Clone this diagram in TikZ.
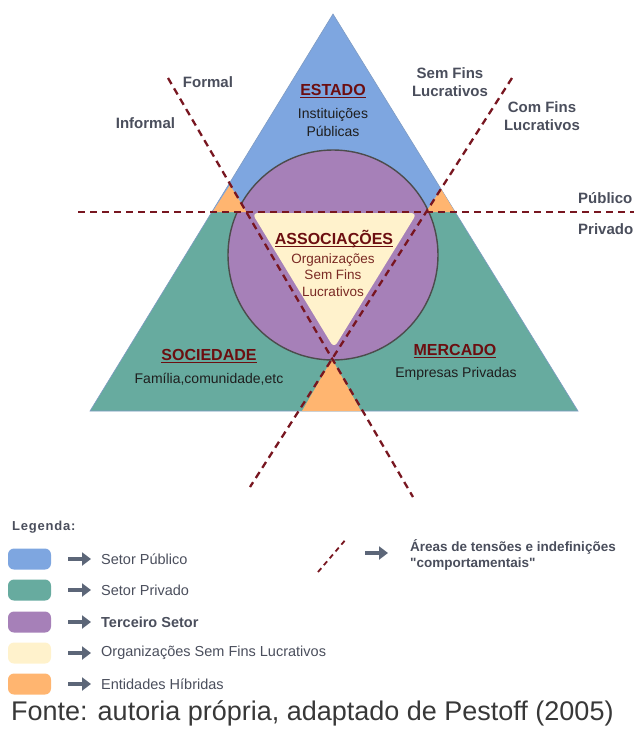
\documentclass[tikz,border=0pt]{standalone}
\usepackage{fontspec}
\setmainfont{Liberation Sans}
\newfontfamily\retas{Liberation Sans}
\usepackage{xcolor}
\usepackage{tikz}
\usetikzlibrary{arrows.meta,positioning}

\definecolor{publico}{HTML}{7EA6E0}
\definecolor{privado}{HTML}{67AB9F}
\definecolor{terceiro}{HTML}{A680B8}
\definecolor{osfl}{HTML}{FFF2CC}
\definecolor{hibrido}{HTML}{FFB570}
\definecolor{tensao}{RGB}{120,22,32}
\definecolor{titulo}{RGB}{108,14,16}
\definecolor{osfltexto}{RGB}{122,42,36}
\definecolor{rotulo}{RGB}{74,78,92}
\definecolor{seta}{RGB}{92,102,120}
\definecolor{corpo}{RGB}{30,30,30}

\newcommand{\sublinhado}[1]{\setbox0\hbox{#1}\rlap{\color{titulo}\rule[-2.6pt]{\wd0}{1.3pt}}\box0}

\begin{document}
\begin{tikzpicture}[x=1pt,y=-1pt,
  linhatensao/.style={draw=tensao,line width=2.3pt,dash pattern=on 7pt off 5pt},
  setor/.style={inner sep=0pt,text=titulo,font=\bfseries\fontsize{16}{18}\selectfont},
  descr/.style={inner sep=0pt,text=corpo,align=center,font=\fontsize{14}{18}\selectfont},
  eixo/.style={inner sep=0pt,text=rotulo,align=center,font=\bfseries\fontsize{15}{18}\selectfont},
  swatch/.style={minimum width=43pt,minimum height=21pt,rounded corners=6pt,inner sep=0pt},
  legtexto/.style={inner sep=0pt,anchor=west,text=rotulo,font=\fontsize{14.5}{17}\selectfont},
  legseta/.style={draw=seta,line width=4.5pt,-{Triangle[length=9pt,width=13pt]}}]
\useasboundingbox (0,0) rectangle (634,729);

% triangulo Estado / Sociedade / Mercado
\coordinate (topo) at (333,14);
\coordinate (baseE) at (90,411);
\coordinate (baseD) at (578,411);
\coordinate (pubE) at (211.8,212);
\coordinate (pubD) at (455.2,212);
\fill[publico] (topo)--(pubE)--(pubD)--cycle;
\fill[privado] (pubE)--(baseE)--(baseD)--(pubD)--cycle;
\draw[publico!70!gray,line width=0.6pt] (topo)--(baseE)--(baseD)--cycle;

% hibridos de baixo, terceiro setor e associacoes
\fill[hibrido] (332,359)--(302,411)--(361,411)--cycle;
\draw[fill=terceiro,draw=black!70,line width=1.4pt] (333,255) circle (105);
\fill[osfl,rounded corners=6pt] (252,213)--(417,213)--(334,348)--cycle;
\fill[hibrido] (230,185)--(212.5,212)--(246.5,212)--cycle;
\fill[hibrido] (441,189)--(426,212)--(455,212)--cycle;

% linhas de tensao
\coordinate (formalA) at (168,78);
\coordinate (formalB) at (413,497);
\coordinate (lucroA) at (512,78);
\coordinate (lucroB) at (250,487);
\coordinate (pubA) at (78,212);
\coordinate (pubB) at (634,212);
\draw[linhatensao] (pubA)--(pubB);
\draw[linhatensao] (formalA)--(formalB);
\draw[linhatensao] (lucroA)--(lucroB);

% rotulos dos eixos
\node[eixo] (formal) at (208,82) {Formal};
\node[eixo] (informal) at (145.5,123) {Informal};
\node[eixo] (semfins) at (450,82) {Sem Fins\\Lucrativos};
\node[eixo] (comfins) at (542,116) {Com Fins\\Lucrativos};
\node[eixo,anchor=west] (publ) at (578,198) {Público};
\node[eixo,anchor=west] (priv) at (578,229) {Privado};

% setores
\node[setor] (estado) at (333,91) {\sublinhado{ESTADO}};
\node[descr] (estadotxt) at (333,122) {Instituições\\Públicas};
\node[setor] (assoc) at (334,239) {\sublinhado{ASSOCIAÇÕES}};
\node[descr,text=osfltexto,font=\fontsize{13.5}{16.5}\selectfont] (assoctxt) at (333,275) {Organizações\\Sem Fins\\Lucrativos};
\node[setor] (sociedade) at (209,356) {\sublinhado{SOCIEDADE}};
\node[descr] (sociedadetxt) at (209,379) {Família,comunidade,etc};
\node[setor] (mercado) at (455,351) {\sublinhado{MERCADO}};
\node[descr] (mercadotxt) at (456,374) {Empresas Privadas};

% legenda
\node[inner sep=0pt,anchor=west,text=rotulo,font=\bfseries\fontsize{13}{15}\selectfont\addfontfeature{LetterSpace=6}] (legenda) at (12,527) {Legenda:};
\foreach \cor/\txt/\yy/\n in {publico/Setor Público/559/1,
    privado/Setor Privado/590/2,
    terceiro/{\bfseries Terceiro Setor}/622/3,
    osfl/Organizações Sem Fins Lucrativos/653/4,
    hibrido/Entidades Híbridas/684/5}{
  \node[swatch,fill=\cor] (cor\n) at (29.5,\yy) {};
  \node[legtexto] (leg\n) at (101,\yy) {\txt};
  \draw[legseta] ([xshift=17pt]cor\n.east) -- ([xshift=-10pt]leg\n.west);
}
\coordinate (tensA) at (318,572);
\coordinate (tensB) at (347,538);
\draw[draw=tensao,line width=1.8pt,dash pattern=on 5pt off 4pt] (tensA)--(tensB);
\node[inner sep=0pt,anchor=west,text=rotulo,align=left,font=\retas\bfseries\fontsize{13.5}{16}\selectfont] (tenstxt) at (410,555) {Áreas de tensões e indefinições\\"comportamentais"};
\coordinate (tensseta) at (365,553);
\draw[legseta] (tensseta) -- ([xshift=-22pt]tenstxt.west |- tensseta);

\node[inner sep=0pt,anchor=west,text=black!78,font=\fontsize{27}{30}\selectfont] (fonte) at (11,713) {Fonte: autoria própria, adaptado de Pestoff (2005)};
\end{tikzpicture}
\end{document}
